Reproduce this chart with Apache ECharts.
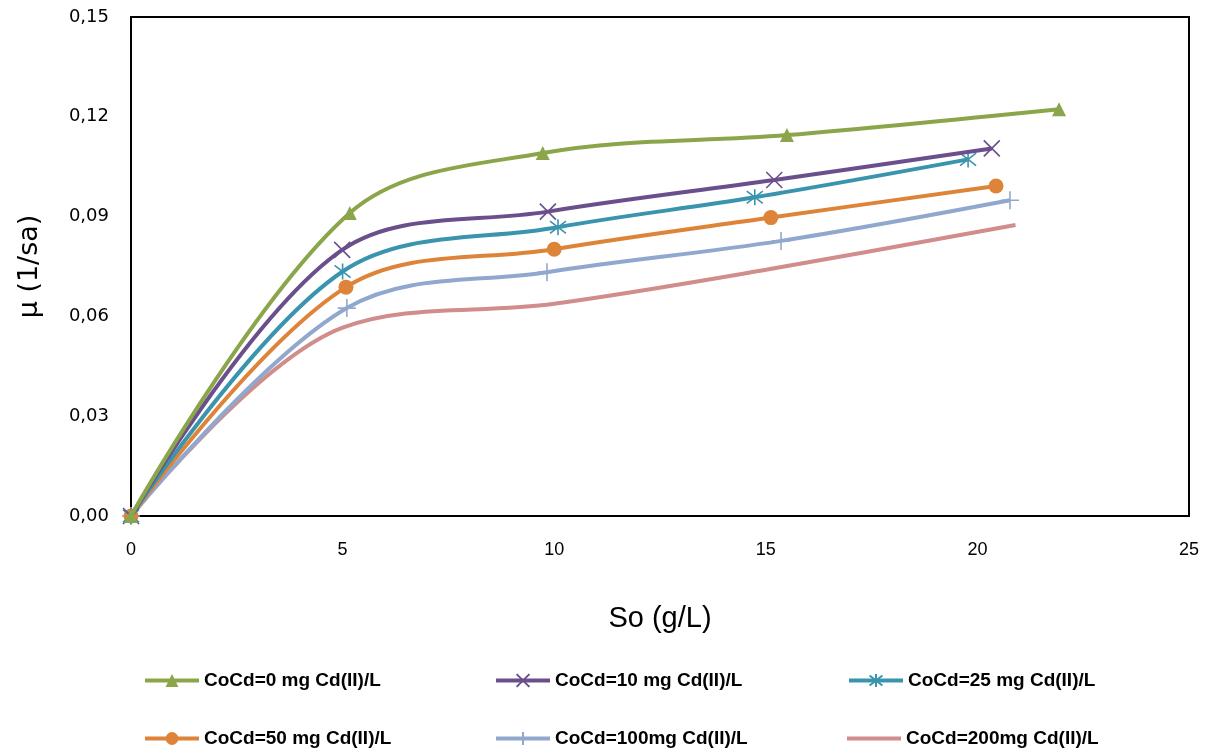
<!DOCTYPE html>
<html>
<head>
<meta charset="utf-8">
<script src="https://cdn.jsdelivr.net/npm/echarts@6/dist/echarts.min.js"></script>
<style>
html,body{margin:0;padding:0;background:#fff;}
#chart{width:1225px;height:753px;}
</style>
</head>
<body>
<div id="chart"></div>
<script>
// ---- Data ----
const seriesNames = [
  'CoCd=0 mg Cd(II)/L',
  'CoCd=10 mg Cd(II)/L',
  'CoCd=25 mg Cd(II)/L',
  'CoCd=50 mg Cd(II)/L',
  'CoCd=100mg Cd(II)/L',
  'CoCd=200mg Cd(II)/L'
];
const cd0   = [[0,0],[5.17,0.0911],[9.73,0.1091],[15.5,0.1145],[21.93,0.1223]];
const cd10  = [[0,0],[4.99,0.0800],[9.85,0.0915],[15.2,0.1010],[20.34,0.1105]];
const cd25  = [[0,0],[5.0,0.0735],[10.09,0.0868],[14.74,0.0958],[19.78,0.1072]];
const cd50  = [[0,0],[5.08,0.0688],[10.0,0.0802],[15.12,0.0897],[20.44,0.0992]];
const cd100 = [[0,0],[5.1,0.0625],[9.83,0.0733],[15.36,0.0827],[20.77,0.0949]];
const cd200 = [[0,0],[5.0,0.0566],[10.0,0.0638],[15.0,0.0740],[20.9,0.0875]];
const xTicks = [0,5,10,15,20,25];
const yTicks = [0,0.03,0.06,0.09,0.12,0.15];

// ---- Styling ----
const colors = ['#8BA64A','#6B4E8C','#3A94AD','#DE8439','#91A8CE','#D18C8C'];
const datasets = [cd0, cd10, cd25, cd50, cd100, cd200];
const X_PATH = 'path://M0,0L10,10M10,0L0,10';
const AST_PATH = 'path://M0,0L10,10M10,0L0,10M5,-1.5L5,11.5';
const PLUS_PATH = 'path://M5,0L5,10M0,5L10,5';

function markerCfg(i){
  const c = colors[i];
  switch(i){
    case 0: return {symbol:'triangle', symbolSize:14, itemStyle:{color:c}};
    case 1: return {symbol:X_PATH, symbolSize:16, itemStyle:{color:'rgba(0,0,0,0)', borderColor:c, borderWidth:1.6}};
    case 2: return {symbol:AST_PATH, symbolSize:16, itemStyle:{color:'rgba(0,0,0,0)', borderColor:c, borderWidth:1.6}};
    case 3: return {symbol:'circle', symbolSize:15, itemStyle:{color:c}};
    case 4: return {symbol:PLUS_PATH, symbolSize:18, itemStyle:{color:'rgba(0,0,0,0)', borderColor:c, borderWidth:1.6}};
    default: return {symbol:'none', itemStyle:{color:c}};
  }
}

const series = datasets.map((d,i)=>Object.assign({
  name: seriesNames[i],
  type: 'line',
  data: d,
  smooth: 0.35,
  showSymbol: true,
  z: 10 - i,
  lineStyle: {color: colors[i], width: 4},
  emphasis: {disabled: true}
}, markerCfg(i)));

const legendPos = [
  {left:143, top:671},{left:494, top:671},{left:847, top:671},
  {left:143, top:729},{left:494, top:729},{left:847, top:729}
];
const legends = seriesNames.map((n,i)=>({
  data: i === 5 ? [{name:n, icon:'path://M0,0L60,0L60,4.5L0,4.5Z'}] : [n],
  left:legendPos[i].left, top:legendPos[i].top,
  padding:0, itemWidth:54, itemHeight:16, itemGap:4,
  selectedMode:false,
  lineStyle:{width:4},
  textStyle:{fontFamily:'Liberation Sans', fontWeight:'bold', fontSize:19, color:'#000'}
}));

const fmt = v => v.toFixed(2).replace('.', ',');

const option = {
  animation:false,
  backgroundColor:'#fff',
  grid:{left:131, right:36, top:17, bottom:237, show:true, borderColor:'#000', borderWidth:2, backgroundColor:'transparent'},
  xAxis:{
    type:'value', min:xTicks[0], max:xTicks[xTicks.length-1], interval:5,
    name:'So (g/L)', nameLocation:'middle', nameGap:88,
    nameTextStyle:{fontFamily:'Liberation Sans', fontSize:29, color:'#000'},
    axisLine:{show:true, onZero:false, lineStyle:{color:'#000', width:2}},
    axisTick:{show:false},
    splitLine:{show:false},
    axisLabel:{margin:25, fontFamily:'Liberation Sans', fontSize:18, color:'#000'}
  },
  yAxis:{
    type:'value', min:yTicks[0], max:yTicks[yTicks.length-1], interval:0.03,
    name:'µ (1/sa)', nameLocation:'middle', nameGap:88, nameRotate:90,
    nameTextStyle:{fontFamily:'DejaVu Sans', fontSize:27, color:'#000'},
    axisLine:{show:true, onZero:false, lineStyle:{color:'#000', width:2}},
    axisTick:{show:false},
    splitLine:{show:false},
    axisLabel:{margin:22, fontFamily:'DejaVu Sans', fontSize:18, color:'#000', formatter:fmt}
  },
  legend: legends,
  series: series
};

const chart = echarts.init(document.getElementById('chart'), null, {renderer:'canvas'});
chart.setOption(option);
</script>
</body>
</html>
